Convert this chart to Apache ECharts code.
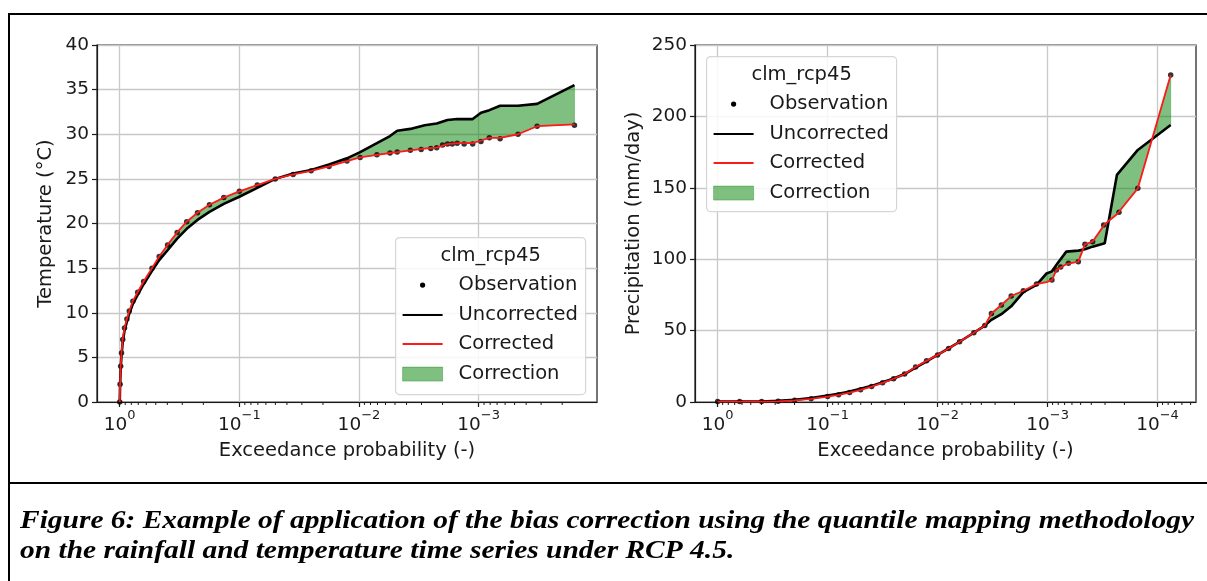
<!DOCTYPE html>
<html>
<head>
<meta charset="utf-8">
<title>Quantile mapping bias correction</title>
<script src="https://cdn.jsdelivr.net/npm/echarts@6.0.0/dist/echarts.min.js"></script>
<style>
  html, body { margin: 0; padding: 0; background: #fff; }
  #main { width: 1207px; height: 581px; }
</style>
</head>
<body>
<div id="main"></div>
<script>
// temperature panel: exceedance probability of each quantile
var tempProb = [1, 0.9931, 0.9817, 0.9661, 0.9441, 0.912, 0.871, 0.8318, 0.7762, 0.7079,
  0.631, 0.537, 0.4677, 0.3981, 0.3311, 0.2754, 0.2239, 0.1778, 0.1349, 0.1,
  0.0708, 0.0501, 0.0355, 0.0251, 0.0178, 0.0126, 0.00977, 0.00708, 0.0055, 0.00479,
  0.00372, 0.00282, 0.00224, 0.00182, 0.00151, 0.00112, 0.000955, 0.000813, 0.000661, 0.000468,
  0.000324, 0.000158];
var tempUncorrected = [0, 1.8, 3.8, 5.2, 6.7, 8.0, 9.0, 9.9, 11.0, 12.0,
  13.2, 14.7, 15.9, 17.0, 18.3, 19.4, 20.4, 21.3, 22.2, 23.0,
  24.0, 25.0, 25.6, 26.0, 26.6, 27.3, 28.0, 29.0, 29.8, 30.4,
  30.6, 31.0, 31.2, 31.6, 31.7, 31.7, 32.4, 32.7, 33.2, 33.2,
  33.4, 35.5];
var tempCorrected = [0, 2, 4, 5.5, 7, 8.3, 9.3, 10.2, 11.3, 12.3,
  13.5, 15, 16.3, 17.6, 19, 20.2, 21.2, 22.1, 22.9, 23.6,
  24.3, 25, 25.5, 25.9, 26.4, 27.0, 27.4, 27.7, 27.9, 28.0,
  28.2, 28.4, 28.5, 28.9, 29.0, 29.0, 29.3, 29.6, 29.6, 30.0,
  30.9, 31.1];
var tempObsProb = [1, 0.9931, 0.9817, 0.9661, 0.9441, 0.912, 0.871, 0.8318, 0.7762, 0.7079,
  0.631, 0.537, 0.4677, 0.3981, 0.3311, 0.2754, 0.2239, 0.1778, 0.1349, 0.1,
  0.0708, 0.0501, 0.0355, 0.0251, 0.0178, 0.0126, 0.00977, 0.00708, 0.0055, 0.00479,
  0.00372, 0.00302, 0.00251, 0.00224, 0.002, 0.00182, 0.00166, 0.00151, 0.00132, 0.00112,
  0.000955, 0.000813, 0.000661, 0.000468, 0.000324, 0.000158];
var tempObs = [0, 2, 4, 5.5, 7, 8.3, 9.3, 10.2, 11.3, 12.3,
  13.5, 15, 16.3, 17.6, 19, 20.2, 21.2, 22.1, 22.9, 23.6,
  24.3, 25, 25.5, 25.9, 26.4, 27.0, 27.4, 27.7, 27.9, 28.0,
  28.2, 28.3, 28.4, 28.5, 28.8, 28.9, 28.9, 29.0, 28.9, 28.9,
  29.2, 29.6, 29.5, 30.0, 30.9, 31.0];

// precipitation panel
var precProb = [1, 0.631, 0.398, 0.282, 0.1995, 0.1413, 0.1, 0.0794, 0.0631, 0.0501,
  0.0398, 0.0316, 0.0251, 0.01995, 0.01585, 0.01259, 0.01, 0.00794, 0.00631, 0.00468,
  0.00372, 0.00324, 0.00263, 0.00214, 0.00166, 0.00126, 0.00102, 0.000912, 0.000832, 0.000676,
  0.000525, 0.000457, 0.000389, 0.000302, 0.000234, 0.000151, 0.0000759];
var precUncorrected = [0.3, 0.3, 0.4, 0.8, 1.6, 2.8, 4.5, 5.8, 7.3, 9.2,
  11.3, 13.8, 16.5, 19.6, 24.0, 28.5, 33, 37.5, 42.2, 48.5,
  53.5, 57.5, 61.5, 67, 77, 82, 90, 91.5, 96, 105.3,
  106, 107, 108.8, 111.1, 159, 176.5, 194];
var precCorrected = [0.3, 0.3, 0.3, 0.5, 1.2, 2.2, 3.8, 5.0, 6.6, 8.5,
  10.8, 13.4, 16.3, 19.6, 24.5, 28.8, 33, 37.5, 42.2, 48.5,
  53.5, 62, 67.9, 74.2, 77.9, 82.6, 84, 85.4, 92.4, 96.5,
  98.3, 110.4, 112.3, 124.5, 131.5, 149.6, 229];
var precObsProb = [1, 0.631, 0.398, 0.282, 0.1995, 0.1413, 0.1, 0.0794, 0.0631, 0.0501,
  0.0398, 0.0316, 0.0251, 0.01995, 0.01585, 0.01259, 0.01, 0.00794, 0.00631, 0.00468,
  0.00372, 0.00324, 0.00263, 0.00214, 0.00166, 0.00126, 0.000912, 0.000832, 0.000759, 0.000646,
  0.000525, 0.000457, 0.000389, 0.000309, 0.000224, 0.000151, 0.0000759];
var precObs = [0.3, 0.3, 0.3, 0.5, 1.2, 2.2, 3.8, 5.0, 6.6, 8.5,
  10.8, 13.4, 16.3, 19.6, 24.5, 28.8, 33, 37.5, 42.2, 48.5,
  53.5, 62, 67.9, 74.2, 77.9, 82.6, 85.4, 92.4, 94.5, 97.1,
  98.3, 110.4, 112.3, 124, 132.8, 149.6, 229];

var xTickValues = [1, 0.1, 0.01, 0.001, 0.0001];
var xTickExp = ['0', '\u22121', '\u22122', '\u22123', '\u22124'];

var FONT = 'DejaVu Sans';
var INK = '#1a1a1a';
var GREEN = 'rgba(0,128,0,0.5)';

// matplotlib-style minor ticks at 2..9 x 10^n
var minorTickVals = [];
for (var n = -5; n <= 0; n++) {
  for (var k = 2; k <= 9; k++) minorTickVals.push(k * Math.pow(10, n));
}

function findExp(v) {
  for (var i = 0; i < xTickValues.length; i++) {
    if (Math.abs(v - xTickValues[i]) / xTickValues[i] < 1e-6) return xTickExp[i];
  }
  return null;
}

function xAxisCfg(gi, min, max) {
  return {
    type: 'log', gridIndex: gi, inverse: true, min: min, max: max, logBase: 10,
    name: 'Exceedance probability (-)', nameLocation: 'middle', nameGap: 39,
    nameTextStyle: { fontFamily: FONT, fontSize: 19.5, color: INK },
    axisLine: { lineStyle: { color: INK, width: 1.2 } },
    axisTick: { length: 5, customValues: xTickValues, lineStyle: { color: INK, width: 1.2 } },
    splitLine: { show: true, lineStyle: { color: '#c8c8c8', width: 1.3 } },
    axisLabel: {
      customValues: xTickValues, margin: 7,
      formatter: function (v) {
        var e = findExp(v);
        return e === null ? '' : '{b|10}{s|' + e + '}';
      },
      rich: {
        b: { fontFamily: FONT, fontSize: 18.5, color: INK, lineHeight: 26, verticalAlign: 'bottom' },
        s: { fontFamily: FONT, fontSize: 13, color: INK, lineHeight: 14, verticalAlign: 'top' }
      }
    }
  };
}

function yAxisCfg(gi, max, interval, name, gap) {
  return {
    type: 'value', gridIndex: gi, min: 0, max: max, interval: interval,
    name: name, nameLocation: 'middle', nameGap: gap,
    nameTextStyle: { fontFamily: FONT, fontSize: 19.5, color: INK },
    axisLine: { show: true, lineStyle: { color: INK, width: 1.2 } },
    axisTick: { show: true, length: 5, lineStyle: { color: INK, width: 1.2 } },
    splitLine: { show: true, lineStyle: { color: '#c8c8c8', width: 1.3 } },
    axisLabel: { fontFamily: FONT, fontSize: 18.5, color: INK, margin: 8 }
  };
}

function pairs(xs, ys) {
  return xs.map(function (x, i) { return [x, ys[i]]; });
}

function fillSeries(gi, xs, a, b) {
  return {
    type: 'custom', name: 'Correction', xAxisIndex: gi, yAxisIndex: gi, z: 2, silent: true,
    data: [[xs[0], a[0]]],
    renderItem: function (params, api) {
      var pts = [];
      for (var i = 0; i < xs.length; i++) pts.push(api.coord([xs[i], a[i]]));
      for (var j = xs.length - 1; j >= 0; j--) pts.push(api.coord([xs[j], b[j]]));
      return { type: 'polygon', shape: { points: pts }, style: { fill: GREEN, stroke: 'rgba(0,128,0,0.35)', lineWidth: 1 } };
    }
  };
}

function minorTickSeries(gi, lo, hi) {
  var vals = minorTickVals.filter(function (v) { return v > lo && v < hi; });
  return {
    type: 'custom', xAxisIndex: gi, yAxisIndex: gi, z: 6, silent: true, clip: false,
    data: vals.map(function (v) { return [v, 0]; }),
    renderItem: function (params, api) {
      var p = api.coord([api.value(0), api.value(1)]);
      return { type: 'line', shape: { x1: p[0], y1: p[1], x2: p[0], y2: p[1] + 3 }, style: { stroke: INK, lineWidth: 1 } };
    }
  };
}

function panelSeries(gi, prob, unc, cor, obsProb, obs) {
  return [
    fillSeries(gi, prob, unc, cor),
    { type: 'line', name: 'Uncorrected', xAxisIndex: gi, yAxisIndex: gi, z: 3, data: pairs(prob, unc),
      showSymbol: false, symbol: 'none', lineStyle: { color: '#000', width: 2.6 } },
    { type: 'scatter', name: 'Observation', xAxisIndex: gi, yAxisIndex: gi, z: 4, data: pairs(obsProb, obs),
      symbolSize: 5.5, itemStyle: { color: '#000' } },
    { type: 'line', name: 'Corrected', xAxisIndex: gi, yAxisIndex: gi, z: 5, data: pairs(prob, cor),
      showSymbol: false, symbol: 'none', lineStyle: { color: '#ff1a1a', width: 1.8 } }
  ];
}

function legendGraphic(left, top, w, h) {
  var tx = { fontFamily: FONT, fontSize: 19.5, fill: INK, verticalAlign: 'middle' };
  function txt(x, y, s, align) {
    return { type: 'text', z: 100, x: x, y: y, style: Object.assign({ text: s, textAlign: align || 'left' }, tx) };
  }
  var rows = [47.5, 77.5, 106.5, 136.5];
  return {
    type: 'group', left: left, top: top, z: 100,
    children: [
      { type: 'rect', z: 99, shape: { x: 0, y: 0, width: w, height: h, r: 4 },
        style: { fill: 'rgba(255,255,255,0.85)', stroke: '#d6d6d6', lineWidth: 1.2 } },
      txt(w / 2, 18, 'clm_rcp45', 'center'),
      { type: 'circle', z: 100, shape: { cx: 27, cy: rows[0], r: 2.6 }, style: { fill: '#000' } },
      txt(63, rows[0], 'Observation'),
      { type: 'line', z: 100, shape: { x1: 7, y1: rows[1], x2: 47, y2: rows[1] }, style: { stroke: '#000', lineWidth: 2 } },
      txt(63, rows[1], 'Uncorrected'),
      { type: 'line', z: 100, shape: { x1: 7, y1: rows[2], x2: 47, y2: rows[2] }, style: { stroke: '#ff1a1a', lineWidth: 2 } },
      txt(63, rows[2], 'Corrected'),
      { type: 'rect', z: 100, shape: { x: 7, y: rows[3] - 7, width: 40, height: 14 }, style: { fill: GREEN, stroke: 'rgba(0,128,0,0.35)' } },
      txt(63, rows[3], 'Correction')
    ]
  };
}

var chart = echarts.init(document.getElementById('main'), null, { renderer: 'canvas' });

var option = {
  backgroundColor: '#fff',
  animation: false,
  grid: [
    { left: 97, top: 45, width: 500, height: 357, show: true, borderColor: INK, borderWidth: 1.2 },
    { left: 695, top: 45, width: 501, height: 357, show: true, borderColor: INK, borderWidth: 1.2 }
  ],
  xAxis: [
    xAxisCfg(0, Math.pow(10, -3.99), Math.pow(10, 0.19)),
    xAxisCfg(1, Math.pow(10, -4.35), Math.pow(10, 0.206))
  ],
  yAxis: [
    yAxisCfg(0, 40, 5, 'Temperature (\u00b0C)', 41),
    yAxisCfg(1, 250, 50, 'Precipitation (mm/day)', 51)
  ],
  series: [].concat(
    panelSeries(0, tempProb, tempUncorrected, tempCorrected, tempObsProb, tempObs),
    panelSeries(1, precProb, precUncorrected, precCorrected, precObsProb, precObs),
    [minorTickSeries(0, Math.pow(10, -3.99), Math.pow(10, 0.19)),
     minorTickSeries(1, Math.pow(10, -4.35), Math.pow(10, 0.206))]
  ),
  graphic: [
    legendGraphic(395, 237, 190, 157),
    legendGraphic(706, 56, 190, 155),
    { type: 'line', shape: { x1: 8, y1: 14, x2: 1207, y2: 14 }, style: { stroke: '#000', lineWidth: 2 } },
    { type: 'line', shape: { x1: 9, y1: 13, x2: 9, y2: 581 }, style: { stroke: '#000', lineWidth: 2 } },
    { type: 'line', shape: { x1: 8, y1: 483, x2: 1207, y2: 483 }, style: { stroke: '#000', lineWidth: 2 } },
    { type: 'text', x: 20, y: 506, scaleX: 1.155, style: {
      text: 'Figure 6: Example of application of the bias correction using the quantile mapping methodology\non the rainfall and temperature time series under RCP 4.5.',
      fontFamily: 'Liberation Serif', fontSize: 25.5, fontStyle: 'italic', fontWeight: 'bold', fill: '#000', lineHeight: 30 } }
  ]
};

chart.setOption(option);
</script>
</body>
</html>
